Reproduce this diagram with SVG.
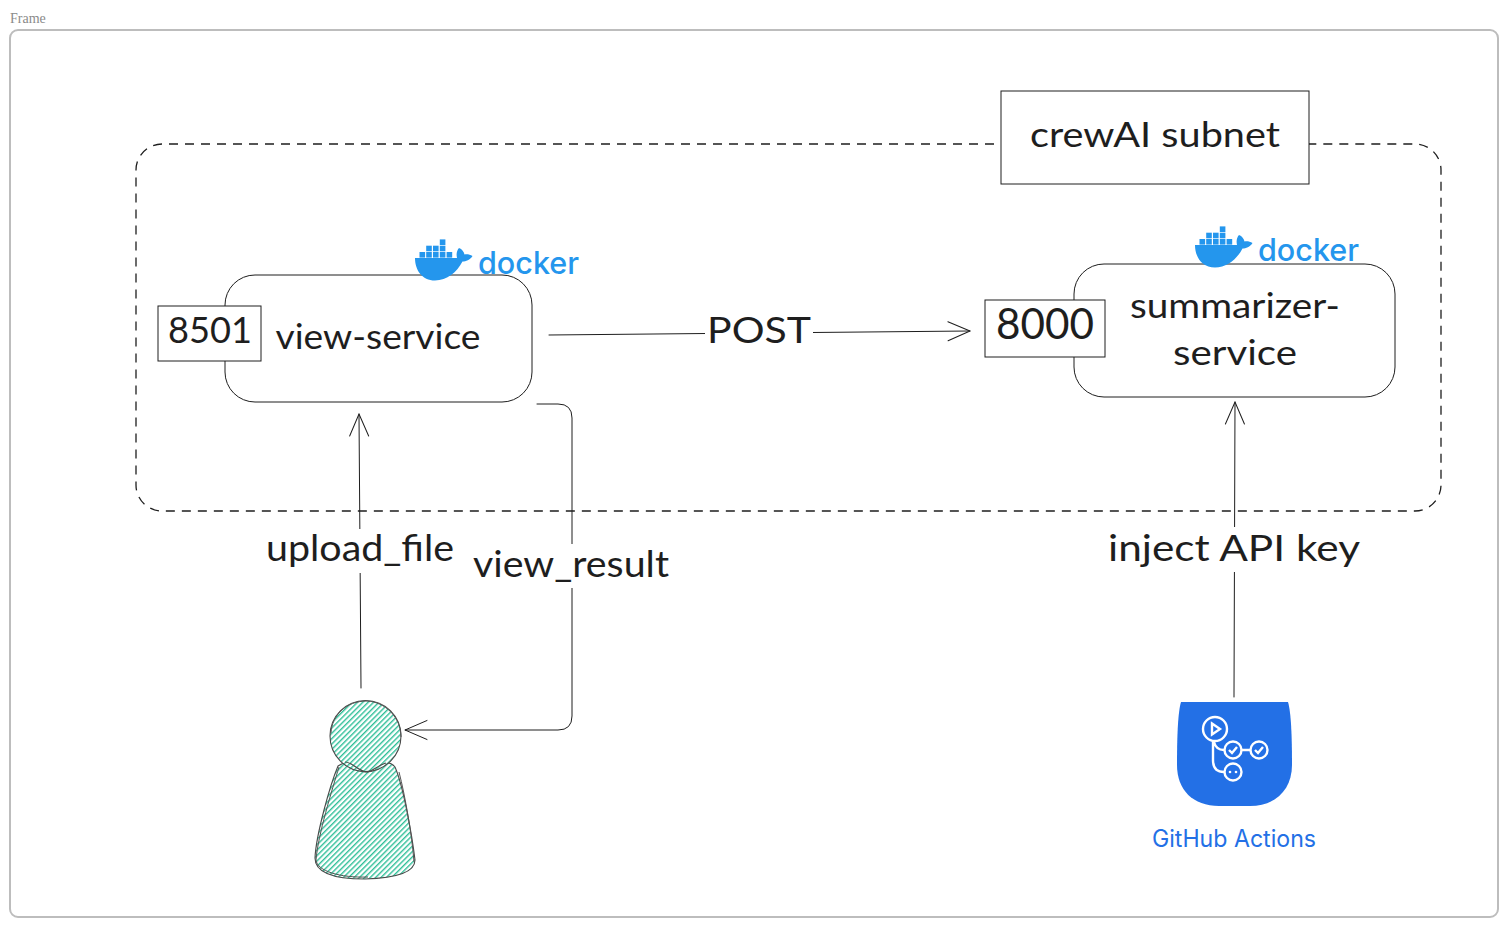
<svg xmlns="http://www.w3.org/2000/svg" width="1508" height="927" viewBox="0 0 1508 927">
<style>
.hand{font-family:"Lato","Noto Sans",sans-serif;fill:#1e1e1e;text-anchor:middle}
.line{fill:none;stroke:#1e1e1e;stroke-width:1;stroke-linecap:round;stroke-linejoin:round}
.box{fill:#fff;stroke:#1e1e1e;stroke-width:1}
.dock{font-family:"Inter","Noto Sans",sans-serif;font-weight:500;fill:#2496ed;font-size:31px}
.cell{fill:#2496ed}
.ga{fill:none;stroke:#fff;stroke-width:2.400}
.sk{fill:none;stroke:#555;stroke-width:1}
</style>
<defs>
<pattern id="hatch" width="3.800" height="3.800" patternUnits="userSpaceOnUse" patternTransform="rotate(-45)">
<rect width="3.800" height="3.800" fill="#fff"/><rect width="3.800" height="1.400" fill="#2fbf98"/>
</pattern>
<marker id="arrow" markerWidth="26" markerHeight="22" refX="23" refY="11" orient="auto" markerUnits="userSpaceOnUse">
<path d="M1 1.500L23 11L1 20.500" fill="none" stroke="#1e1e1e" stroke-width="1" stroke-linecap="round" stroke-linejoin="round"/>
</marker>
<g id="whale">
<path class="cell" d="M0 19H42C41 15 42 11 44 9C47 10 49 13 49.500 15.500C52 15 55 15.500 57.500 17C55 21 51 22.500 47.500 22.500C42 33 32 41.500 20 41.500C7 41.500 0 31 0 19Z"/>
<rect class="cell" x="4.500" y="13" width="5.600" height="5.600"/><rect class="cell" x="11.200" y="13" width="5.600" height="5.600"/><rect class="cell" x="18" y="13" width="5.600" height="5.600"/><rect class="cell" x="24.800" y="13" width="5.600" height="5.600"/><rect class="cell" x="31.600" y="13" width="5.600" height="5.600"/>
<rect class="cell" x="11.200" y="6.700" width="5.600" height="5.600"/><rect class="cell" x="18" y="6.700" width="5.600" height="5.600"/><rect class="cell" x="24.800" y="6.700" width="5.600" height="5.600"/>
<rect class="cell" x="24.800" y="0.400" width="5.600" height="5.600"/>
</g>
</defs>
<rect width="1508" height="927" fill="#fff"/>
<text x="10" y="23" font-family="Liberation Serif,serif" font-size="14" fill="#8a8a8a">Frame</text>
<rect x="10" y="30" width="1488" height="887" rx="8" fill="#fff" stroke="#bdbdbd" stroke-width="2"/>

<g id="connectors">
<path class="line" d="M549 335L970 331" marker-end="url(#arrow)"/>
<path class="line" d="M361 688L359 414" marker-end="url(#arrow)"/>
<path class="line" d="M537 404H558Q572 404 572 418V716Q572 730 558 730H405" marker-end="url(#arrow)"/>
<path class="line" d="M1234 697L1235 402" marker-end="url(#arrow)"/>
</g>

<g id="subnet">
<path d="M994 144H162A26 26 0 0 0 136 170V485A26 26 0 0 0 162 511H1415A26 26 0 0 0 1441 485V170A26 26 0 0 0 1415 144H1309" fill="none" stroke="#1e1e1e" stroke-width="1.300" stroke-dasharray="9 7"/>
<rect x="1001" y="91" width="308" height="93" class="box"/>
<text class="hand" x="1155" y="147" font-size="34" textLength="250" lengthAdjust="spacingAndGlyphs">crewAI subnet</text>
</g>

<g id="view-service">
<rect x="225" y="275" width="307" height="127" rx="30" class="box"/>
<rect x="158" y="306" width="103" height="55" class="box"/>
<text class="hand" x="210" y="343" font-size="37" textLength="84" lengthAdjust="spacingAndGlyphs">8501</text>
<text class="hand" x="378" y="349" font-size="34" textLength="205" lengthAdjust="spacingAndGlyphs">view-service</text>
</g>
<g id="docker-1">
<use href="#whale" x="415" y="239"/>
<text class="dock" x="478" y="274" textLength="101" lengthAdjust="spacingAndGlyphs">docker</text>
</g>

<g id="summarizer-service">
<rect x="1074" y="264" width="321" height="133" rx="30" class="box"/>
<rect x="985" y="300" width="120" height="57" class="box"/>
<text class="hand" x="1045" y="339" font-size="42" textLength="98" lengthAdjust="spacingAndGlyphs">8000</text>
<text class="hand" x="1235" y="318" font-size="34" textLength="210" lengthAdjust="spacingAndGlyphs">summarizer-</text>
<text class="hand" x="1235" y="365" font-size="34" textLength="124" lengthAdjust="spacingAndGlyphs">service</text>
</g>
<g id="docker-2">
<use href="#whale" x="1195" y="226"/>
<text class="dock" x="1258" y="261" textLength="101" lengthAdjust="spacingAndGlyphs">docker</text>
</g>

<g id="labels">
<rect x="705" y="315" width="108" height="34" fill="#fff"/>
<text class="hand" x="759" y="343" font-size="36" textLength="104" lengthAdjust="spacingAndGlyphs">POST</text>
<rect x="265" y="529" width="190" height="44" fill="#fff"/>
<text class="hand" x="360" y="561" font-size="36" textLength="188" lengthAdjust="spacingAndGlyphs">upload_file</text>
<rect x="473" y="544" width="196" height="44" fill="#fff"/>
<text class="hand" x="571" y="577" font-size="36" textLength="196" lengthAdjust="spacingAndGlyphs">view_result</text>
<rect x="1108" y="527" width="252" height="45" fill="#fff"/>
<text class="hand" x="1234" y="561" font-size="36" textLength="252" lengthAdjust="spacingAndGlyphs">inject API key</text>
</g>

<g id="user">
<path d="M338 766C345 761 352 763 357 769C362 773 372 773 378 767C384 761 391 762 395 767C403 785 412 835 415 860C415 872 398 878 365 879C332 879 315 872 315 858C316 835 330 785 338 766Z" fill="url(#hatch)" stroke="#4a4a4a" stroke-width="1.100"/>
<circle cx="365.500" cy="736" r="35.500" fill="url(#hatch)" stroke="#4a4a4a" stroke-width="1.100"/>
<path class="sk" d="M331 733C332 715 346 701 367 701C385 702 401 717 401 737M339 767C332 790 318 835 316 860C317 871 340 878 368 877M399 772C405 795 412 835 414 862"/>
<path d="M345 762C352 762 357 770 366 772C372 772 378 765 386 763" fill="none" stroke="#4a4a4a" stroke-width="1.200"/>
</g>

<g id="github-actions">
<path d="M1181 702H1288C1291 712 1292 735 1292 765C1292 790 1275 806 1250 806H1219C1193 806 1177 790 1177 765C1177 735 1178 712 1181 702Z" fill="#2370e6"/>
<circle class="ga" cx="1215" cy="729" r="12"/>
<path class="ga" d="M1212 723.500L1220 729L1212 734.500Z"/>
<circle class="ga" cx="1233" cy="750" r="8.500"/>
<circle class="ga" cx="1259" cy="750" r="8.500"/>
<circle class="ga" cx="1233" cy="772" r="8.500"/>
<path class="ga" d="M1213 741V760Q1213 772 1224 772M1214 742Q1216 750 1224 750M1242 750H1250"/>
<path class="ga" d="M1229 750L1232 753L1237 747M1255 750L1258 753L1263 747" stroke-width="1.800"/>
<circle cx="1230" cy="772" r="1.300" fill="#fff"/><circle cx="1236" cy="772" r="1.300" fill="#fff"/>
<text x="1234" y="847" font-family="Inter,Roboto,sans-serif" font-size="24" fill="#2370e6" text-anchor="middle" textLength="164" lengthAdjust="spacingAndGlyphs">GitHub Actions</text>
</g>
</svg>
